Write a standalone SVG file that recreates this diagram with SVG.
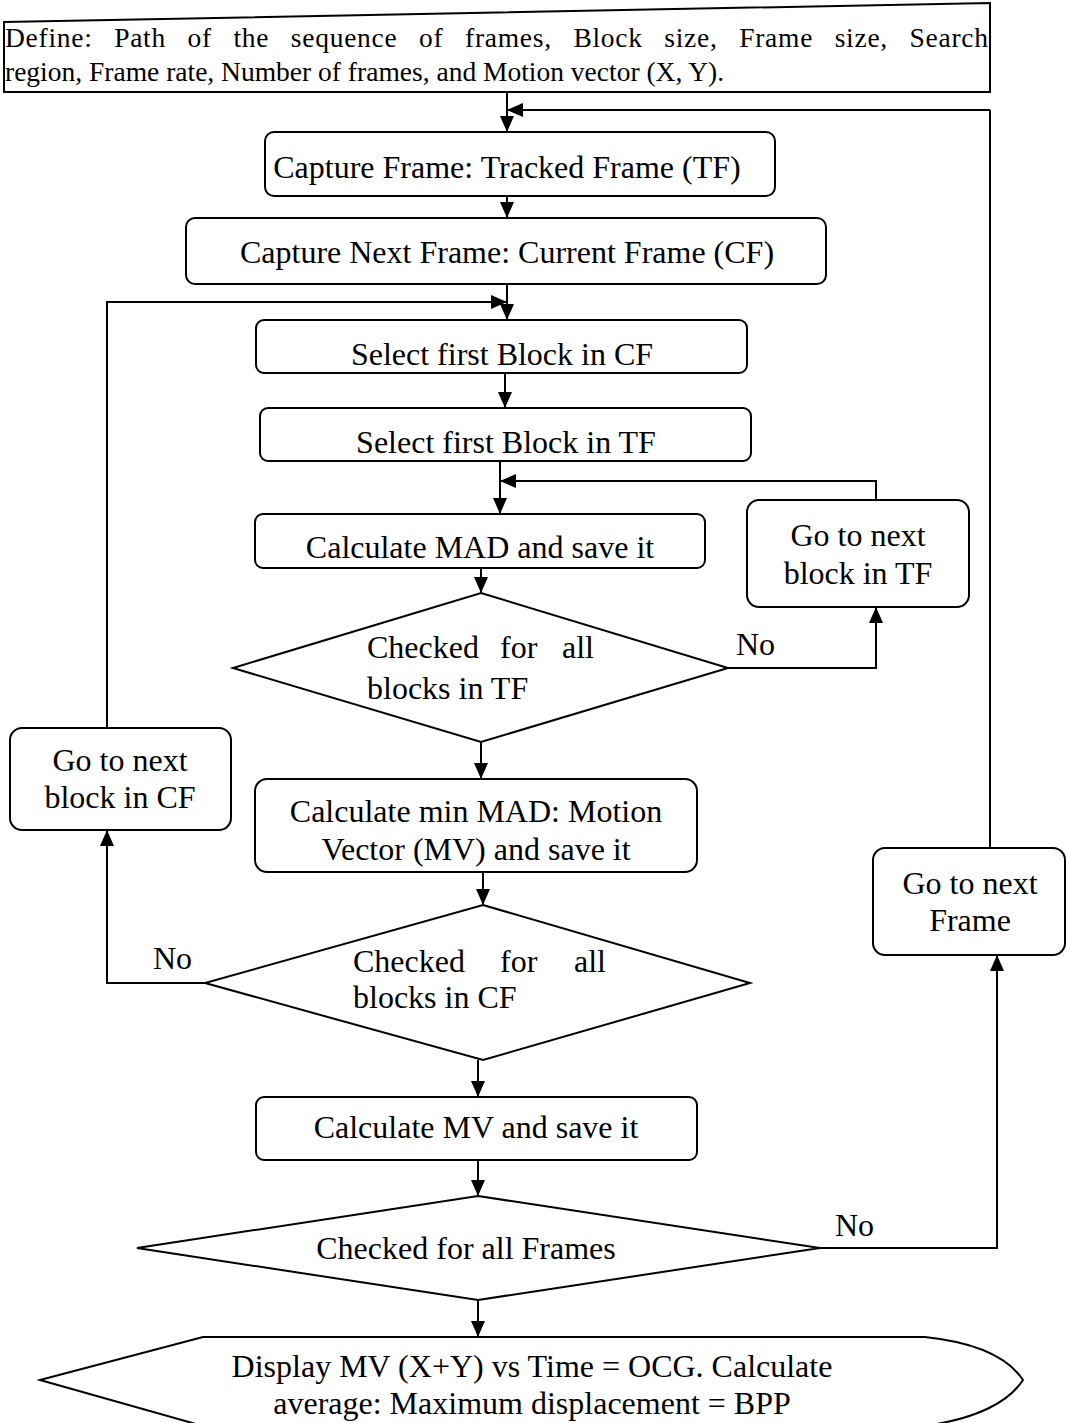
<svg xmlns="http://www.w3.org/2000/svg" width="1067" height="1423" viewBox="0 0 1067 1423">
  <style>
    .shape { fill: #fff; stroke: #000; stroke-width: 2; }
    .wire { fill: none; stroke: #000; stroke-width: 2; }
    text { font-family: "Liberation Serif", "Times New Roman", serif; font-size: 32px; fill: #000; }
    .c { text-anchor: middle; }
    .note { font-size: 27.5px; }
  </style>
  <defs>
    <marker id="arrow" markerWidth="16" markerHeight="14" viewBox="0 0 16 14" refX="15" refY="7" orient="auto" markerUnits="userSpaceOnUse">
      <path d="M0,0 L16,7 L0,14 Z" fill="#000"/>
    </marker>
  </defs>

  <rect width="1067" height="1423" fill="#fff"/>

  <!-- connectors -->
  <g id="connectors">
    <line class="wire" x1="507" y1="92" x2="507" y2="131" marker-end="url(#arrow)"/>
    <polyline class="wire" points="990,110 508,110" marker-end="url(#arrow)"/>
    <polyline class="wire" points="990,848 990,110"/>
    <line class="wire" x1="507" y1="196" x2="507" y2="217" marker-end="url(#arrow)"/>
    <line class="wire" x1="507" y1="284" x2="507" y2="319" marker-end="url(#arrow)"/>
    <polyline class="wire" points="107,728 107,302 506,302" marker-end="url(#arrow)"/>
    <line class="wire" x1="505" y1="373" x2="505" y2="407" marker-end="url(#arrow)"/>
    <line class="wire" x1="500" y1="461" x2="500" y2="513" marker-end="url(#arrow)"/>
    <polyline class="wire" points="876,500 876,481 501,481" marker-end="url(#arrow)"/>
    <line class="wire" x1="481" y1="568" x2="481" y2="592" marker-end="url(#arrow)"/>
    <polyline class="wire" points="728,668 876,668 876,608" marker-end="url(#arrow)"/>
    <line class="wire" x1="481" y1="742" x2="481" y2="778" marker-end="url(#arrow)"/>
    <line class="wire" x1="483" y1="872" x2="483" y2="904" marker-end="url(#arrow)"/>
    <polyline class="wire" points="205,983 107,983 107,831" marker-end="url(#arrow)"/>
    <line class="wire" x1="478" y1="1060" x2="478" y2="1096" marker-end="url(#arrow)"/>
    <line class="wire" x1="478" y1="1160" x2="478" y2="1195" marker-end="url(#arrow)"/>
    <polyline class="wire" points="820,1248 997,1248 997,956" marker-end="url(#arrow)"/>
    <line class="wire" x1="478" y1="1300" x2="478" y2="1336" marker-end="url(#arrow)"/>
  </g>

  <!-- input parameters (manual input), first line justified -->
  <g id="define">
    <polygon class="shape" points="4,22 990,3 990,92 4,92"/>
    <text class="note" x="5" y="47" textLength="983" lengthAdjust="spacing" word-spacing="14">Define: Path of the sequence of frames, Block size, Frame size, Search</text>
    <text class="note" x="5" y="81">region, Frame rate, Number of frames, and Motion vector (X, Y).</text>
  </g>

  <g id="capture-tf">
    <rect class="shape" x="265" y="132" width="510" height="64" rx="9"/>
    <text class="c" x="507" y="178">Capture Frame: Tracked Frame (TF)</text>
  </g>

  <g id="capture-cf">
    <rect class="shape" x="186" y="218" width="640" height="66" rx="9"/>
    <text class="c" x="507" y="263">Capture Next Frame: Current Frame (CF)</text>
  </g>

  <g id="select-cf">
    <rect class="shape" x="256" y="320" width="491" height="53" rx="8"/>
    <text class="c" x="502" y="365">Select first Block in CF</text>
  </g>

  <g id="select-tf">
    <rect class="shape" x="260" y="408" width="491" height="53" rx="8"/>
    <text class="c" x="506" y="453">Select first Block in TF</text>
  </g>

  <g id="calc-mad">
    <rect class="shape" x="255" y="514" width="450" height="54" rx="8"/>
    <text class="c" x="480" y="558">Calculate MAD and save it</text>
  </g>

  <g id="check-tf">
    <polygon class="shape" points="481,593 728,668 481,742 233,668"/>
    <text x="367" y="658">Checked</text>
    <text x="500" y="658">for</text>
    <text x="594" y="658" text-anchor="end">all</text>
    <text x="367" y="699">blocks in TF</text>
  </g>

  <g id="next-block-tf">
    <rect class="shape" x="747" y="500" width="222" height="107" rx="12"/>
    <text class="c" x="858" y="546">Go to next</text>
    <text class="c" x="858" y="584">block in TF</text>
  </g>

  <g id="calc-min-mad">
    <rect class="shape" x="255" y="779" width="442" height="93" rx="12"/>
    <text class="c" x="476" y="822">Calculate min MAD: Motion</text>
    <text class="c" x="476" y="860">Vector (MV) and save it</text>
  </g>

  <g id="check-cf">
    <polygon class="shape" points="483,905 750,983 483,1060 205,983"/>
    <text x="353" y="972">Checked</text>
    <text x="500" y="972">for</text>
    <text x="606" y="972" text-anchor="end">all</text>
    <text x="353" y="1008">blocks in CF</text>
  </g>

  <g id="next-block-cf">
    <rect class="shape" x="10" y="728" width="221" height="102" rx="12"/>
    <text class="c" x="120" y="771">Go to next</text>
    <text class="c" x="120" y="808">block in CF</text>
  </g>

  <g id="calc-mv">
    <rect class="shape" x="256" y="1097" width="441" height="63" rx="8"/>
    <text class="c" x="476" y="1138">Calculate MV and save it</text>
  </g>

  <g id="check-frames">
    <polygon class="shape" points="478,1196 820,1248 478,1300 137,1248"/>
    <text class="c" x="466" y="1259">Checked for all Frames</text>
  </g>

  <g id="next-frame">
    <rect class="shape" x="873" y="848" width="192" height="107" rx="12"/>
    <text class="c" x="970" y="894">Go to next</text>
    <text class="c" x="970" y="931">Frame</text>
  </g>

  <!-- output display -->
  <g id="display">
    <path class="shape" d="M40,1380 L203,1337 L925,1337 Q1000,1345 1023,1380 Q1000,1415 925,1426 L203,1426 Z"/>
    <text class="c" x="532" y="1377">Display MV (X+Y) vs Time = OCG. Calculate</text>
    <text class="c" x="532" y="1414">average: Maximum displacement = BPP</text>
  </g>

  <!-- branch labels -->
  <text x="736" y="655">No</text>
  <text x="153" y="969">No</text>
  <text x="835" y="1236">No</text>
</svg>
